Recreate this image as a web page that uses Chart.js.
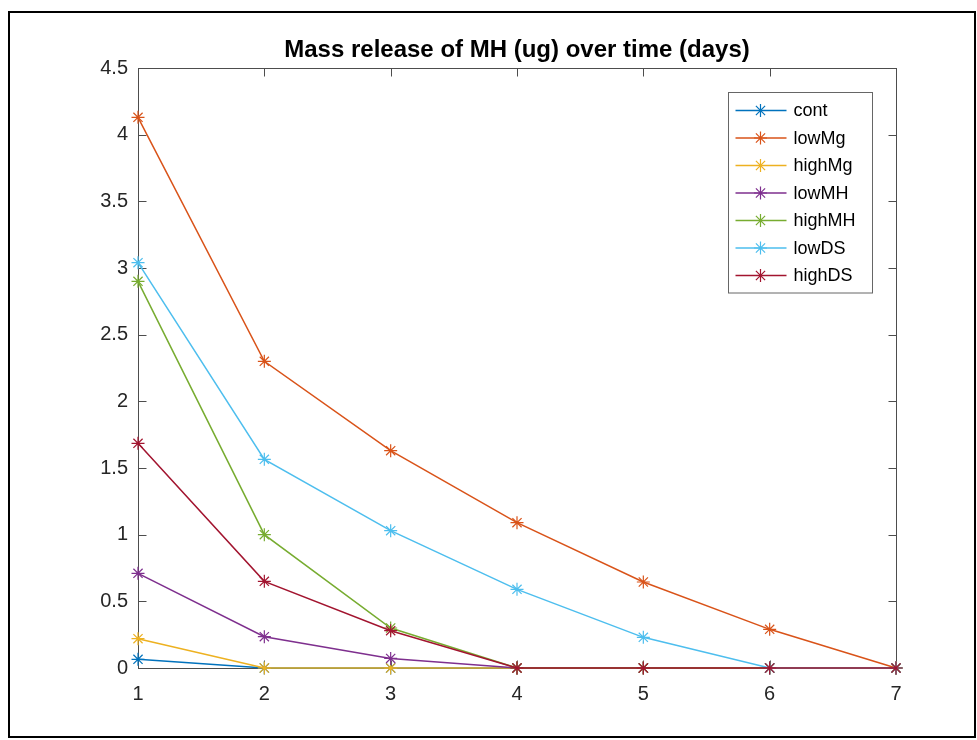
<!DOCTYPE html>
<html>
<head>
<meta charset="utf-8">
<title>Mass release of MH</title>
<script src="https://cdn.jsdelivr.net/npm/chart.js@4.4.0/dist/chart.umd.min.js"></script>
<style>
  html, body { margin: 0; padding: 0; background: #fff; }
  #wrap { position: relative; width: 977px; height: 740px; }
</style>
</head>
<body>
<div id="wrap"><canvas id="releaseChart" width="977" height="740"></canvas></div>
<script>
// release per day, one array per formulation
const days   = [1, 2, 3, 4, 5, 6, 7];
const cont   = [0.065, 0, 0, 0, 0, 0, 0];
const lowMg  = [4.13, 2.30, 1.63, 1.09, 0.645, 0.29, 0];
const highMg = [0.22, 0, 0, 0, 0, 0, 0];
const lowMH  = [0.71, 0.235, 0.072, 0, 0, 0, 0];
const highMH = [2.90, 1.00, 0.30, 0, 0, 0, 0];
const lowDS  = [3.04, 1.565, 1.03, 0.59, 0.23, 0, 0];
const highDS = [1.685, 0.65, 0.28, 0, 0, 0, 0];

const seriesNames = ['cont', 'lowMg', 'highMg', 'lowMH', 'highMH', 'lowDS', 'highDS'];
const seriesValues = [cont, lowMg, highMg, lowMH, highMH, lowDS, highDS];
const yTicks = [0, 0.5, 1, 1.5, 2, 2.5, 3, 3.5, 4, 4.5];

// matlab default line colours
const lineColors = ['#0072BD', '#D95319', '#EDB120', '#7E2F8E', '#77AC30', '#4DBEEE', '#A2142F'];
const axisColor = '#4d4d4d';
const FONT = "'Liberation Sans', Arial, Helvetica, sans-serif";

const datasets = seriesNames.map((name, i) => ({
    label: name,
    data: days.map((d, k) => ({ x: d, y: seriesValues[i][k] })),
    borderColor: lineColors[i],
    backgroundColor: lineColors[i],
    borderWidth: 1.5,
    tension: 0,
    pointStyle: 'star',
    pointRadius: 6.5,
    pointBorderWidth: 1.2,
    pointBorderColor: lineColors[i],
    pointHoverRadius: 6.5,
    fill: false,
    clip: false,
    order: seriesNames.length - i   // later series end up on top
}));

// asterisk marker, same shape as chart.js 'star'
function drawStar(ctx, cx, cy, r) {
    ctx.beginPath();
    for (let k = 0; k < 4; k++) {
        const a = k * Math.PI / 4;
        ctx.moveTo(cx - r * Math.cos(a), cy - r * Math.sin(a));
        ctx.lineTo(cx + r * Math.cos(a), cy + r * Math.sin(a));
    }
    ctx.stroke();
}

// outer frame, axes box and inward ticks
const axesBox = {
    id: 'axesBox',
    beforeDraw(chart) {
        const ctx = chart.ctx;
        ctx.save();
        ctx.fillStyle = '#fff';
        ctx.fillRect(0, 0, chart.width, chart.height);
        ctx.strokeStyle = '#000';
        ctx.lineWidth = 2;
        ctx.strokeRect(9, 12, 966, 725);
        ctx.restore();
    },
    beforeDatasetsDraw(chart) {
        const { ctx, chartArea: a, scales } = chart;
        const L = Math.round(a.left) + 0.5, R = Math.round(a.right) + 0.5;
        const T = Math.round(a.top) + 0.5, B = Math.round(a.bottom) + 0.5;
        const tick = 8;
        ctx.save();
        ctx.strokeStyle = axisColor;
        ctx.lineWidth = 1;
        ctx.strokeRect(L, T, R - L, B - T);
        ctx.beginPath();
        days.forEach(d => {
            const px = Math.round(scales.x.getPixelForValue(d)) + 0.5;
            ctx.moveTo(px, B); ctx.lineTo(px, B - tick);
            ctx.moveTo(px, T); ctx.lineTo(px, T + tick);
        });
        yTicks.forEach(v => {
            const py = Math.round(scales.y.getPixelForValue(v)) + 0.5;
            ctx.moveTo(L, py); ctx.lineTo(L + tick, py);
            ctx.moveTo(R, py); ctx.lineTo(R - tick, py);
        });
        ctx.stroke();
        ctx.restore();
    }
};

// boxed legend in the upper right corner of the axes
const boxLegend = {
    id: 'boxLegend',
    afterDatasetsDraw(chart) {
        const { ctx, chartArea: a } = chart;
        const w = 144, rowH = 27.5;
        const h = rowH * chart.data.datasets.length + 8;
        const left = Math.round(a.right - 24 - w) + 0.5;
        const top = Math.round(a.top + 24) + 0.5;
        ctx.save();
        ctx.fillStyle = '#fff';
        ctx.fillRect(left, top, w, h);
        ctx.strokeStyle = '#666';
        ctx.lineWidth = 1;
        ctx.strokeRect(left, top, w, h);
        ctx.font = '18px ' + FONT;
        ctx.textBaseline = 'middle';
        ctx.fillStyle = '#000';
        chart.data.datasets.forEach((ds, i) => {
            const cy = top + 18 + i * rowH;
            ctx.strokeStyle = ds.borderColor;
            ctx.lineWidth = 1.5;
            ctx.beginPath();
            ctx.moveTo(left + 7, cy);
            ctx.lineTo(left + 58, cy);
            ctx.stroke();
            ctx.lineWidth = 1.2;
            drawStar(ctx, left + 32, cy, 6.5);
            ctx.fillText(ds.label, left + 65, cy + 1);
        });
        ctx.restore();
    }
};

// tick labels without trailing zeros (4 rather than 4.0)
const plainNumber = v => String(Number(v));

const ctx = document.getElementById('releaseChart').getContext('2d');
new Chart(ctx, {
    type: 'line',
    data: { datasets: datasets },
    plugins: [axesBox, boxLegend],
    options: {
        responsive: false,
        animation: false,
        events: [],
        layout: { padding: { left: 0, right: 81, top: 0, bottom: 0 } },
        scales: {
            x: {
                type: 'linear',
                min: 1,
                max: 7,
                afterBuildTicks: s => { s.ticks = days.map(v => ({ value: v })); },
                afterFit: s => { s.height = 72; },
                grid: { display: false, drawTicks: false },
                border: { display: false },
                ticks: { color: '#262626', padding: 14, callback: plainNumber, font: { family: FONT, size: 20 } }
            },
            y: {
                min: 0,
                max: 4.5,
                afterBuildTicks: s => { s.ticks = yTicks.map(v => ({ value: v })); },
                afterFit: s => { s.width = 138; },
                grid: { display: false, drawTicks: false },
                border: { display: false },
                ticks: { color: '#262626', padding: 10, callback: plainNumber, font: { family: FONT, size: 20 } }
            }
        },
        plugins: {
            legend: { display: false },
            tooltip: { enabled: false },
            title: {
                display: true,
                fullSize: false,
                text: 'Mass release of MH (ug) over time (days)',
                color: '#000',
                font: { family: FONT, size: 24, weight: 'bold' },
                padding: { top: 36, bottom: 3.2 }
            }
        }
    }
});
</script>
</body>
</html>
